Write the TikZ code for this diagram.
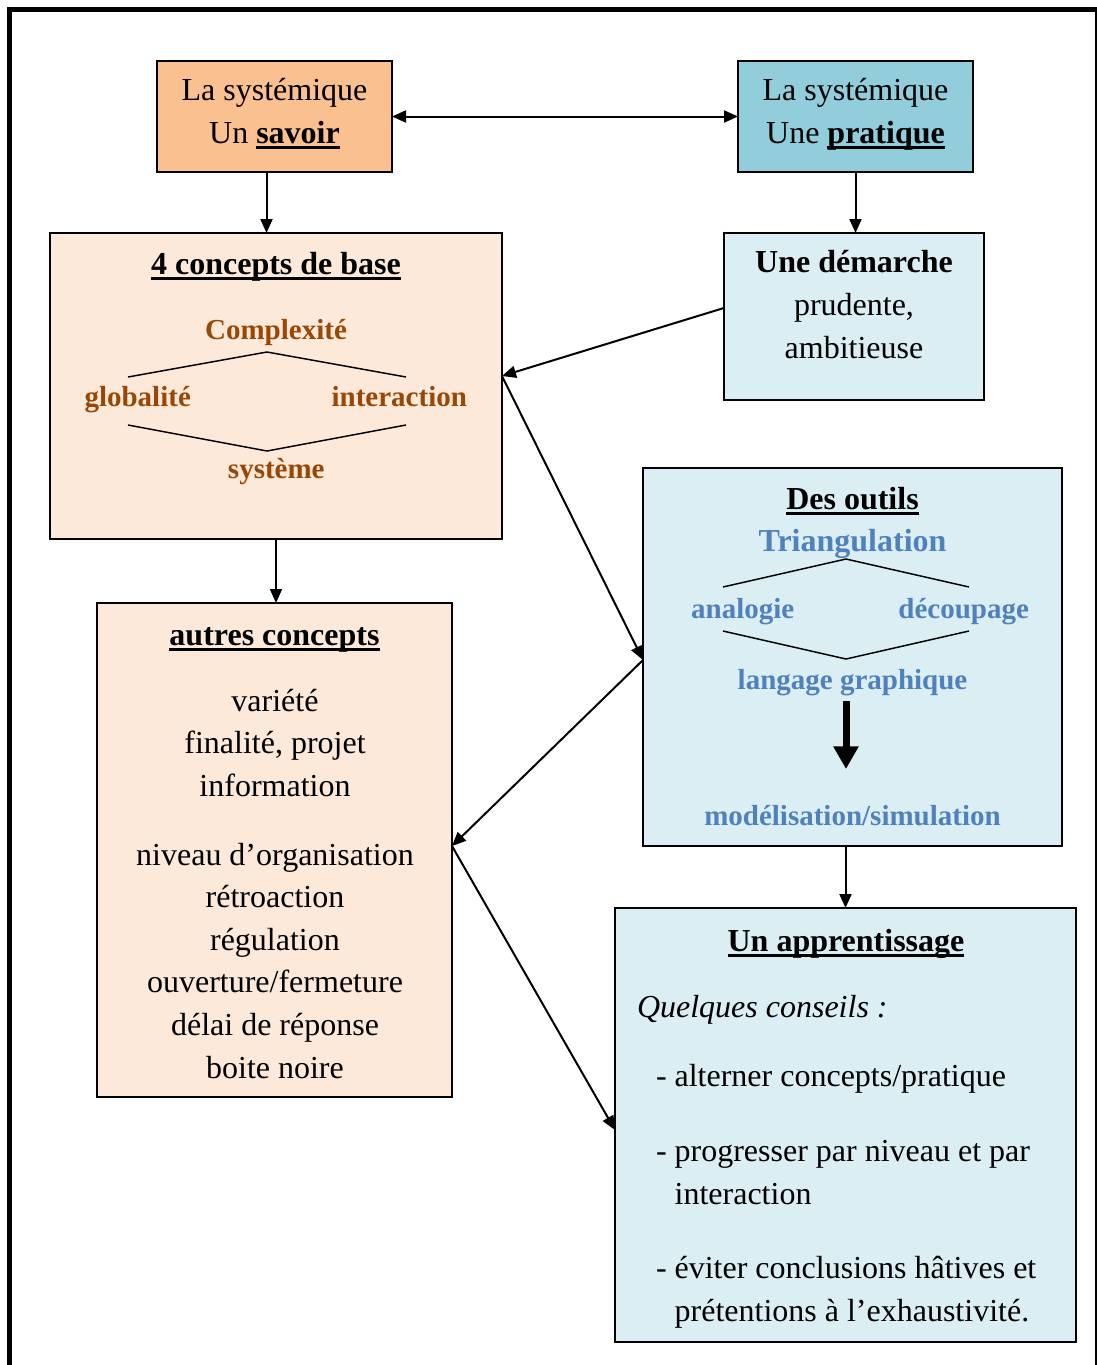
\documentclass[tikz,border=0pt]{standalone}
\usepackage{fontspec}
\setmainfont{Liberation Serif}
\usetikzlibrary{arrows.meta}
\definecolor{savoirfond}{HTML}{FAC090}
\definecolor{pratiquefond}{HTML}{92CDDC}
\definecolor{rosepale}{HTML}{FDE9D9}
\definecolor{bleupale}{HTML}{DBEEF3}
\definecolor{brun}{HTML}{984806}
\definecolor{bleutexte}{HTML}{4F81BD}
\newcommand{\souligne}[1]{\setbox0\hbox{#1}\rlap{\rule[-4.5pt]{\wd0}{2pt}}\box0}
\begin{document}
\begin{tikzpicture}[x=0.75pt,y=-0.75pt,
  every node/.style={font=\fontsize{24}{31.9}\selectfont,inner sep=0pt,outer sep=0pt},
  titre/.style={font=\fontsize{24}{31.9}\selectfont\bfseries},
  petit/.style={font=\fontsize{21.75}{28}\selectfont\bfseries},
  boite/.style={draw,line width=1.5pt},
  trait/.style={line width=1.1pt},
  fleche/.style={line width=1.5pt,-{Triangle[length=10.5pt,width=9pt]}},
  doublefleche/.style={line width=1.5pt,{Triangle[length=10.5pt,width=9pt]}-{Triangle[length=10.5pt,width=9pt]}}]
 \useasboundingbox (0,0) rectangle (1097,1365);
 \draw [line width=3.75pt] (9.5,1365) -- (9.5,9.5) -- (1097,9.5);
 \draw [line width=1.5pt] (1095.5,9.5) -- (1095.5,1365);
 % les boites
 \node [boite,fill=savoirfond,minimum width=176.25pt,minimum height=83.25pt] (savoir) at (274.5,116.5) {};
 \node [boite,fill=pratiquefond,minimum width=176.25pt,minimum height=83.25pt] (pratique) at (855.5,116.5) {};
 \node [boite,fill=rosepale,minimum width=339pt,minimum height=229.5pt] (concepts) at (276,386) {};
 \node [boite,fill=bleupale,minimum width=195pt,minimum height=125.25pt] (demarche) at (854,316.5) {};
 \node [boite,fill=bleupale,minimum width=314.25pt,minimum height=283.5pt] (outils) at (852.5,657) {};
 \node [boite,fill=rosepale,minimum width=266.25pt,minimum height=370.5pt] (autres) at (274.5,850) {};
 \node [boite,fill=bleupale,minimum width=345.75pt,minimum height=325.5pt] (apprentissage) at (845.5,1125) {};
 % les textes (base = derniere ligne)
 \node [anchor=base,align=center] (savoirtxt) at (274.5,143) {La systémique\\Un \souligne{\textbf{savoir}}};
 \node [anchor=base,align=center] (pratiquetxt) at (855.5,143) {La systémique\\Une \souligne{\textbf{pratique}}};
 \node [titre,anchor=base] (ctitre) at (276,274) {\souligne{4 concepts de base}};
 \node [petit,text=brun,anchor=base] (complexite) at (276,339) {Complexité};
 \node [petit,text=brun,anchor=base] (globalite) at (137.7,406) {globalité};
 \node [petit,text=brun,anchor=base] (interaction) at (399.3,406) {interaction};
 \node [petit,text=brun,anchor=base] (systeme) at (276.3,478) {système};
 \draw [trait] (128,377) -- (267,352) -- (406,377);
 \draw [trait] (128,425) -- (267,451) -- (406,425);
 \node [anchor=base,align=center] (demarchetxt) at (854,358) {\textbf{Une démarche}\\prudente,\\ambitieuse};
 \node [titre,anchor=base] (otitre) at (852.5,509) {\souligne{Des outils}};
 \node [titre,text=bleutexte,anchor=base] (triangulation) at (852.5,551) {Triangulation};
 \node [petit,text=bleutexte,anchor=base] (analogie) at (742.7,618) {analogie};
 \node [petit,text=bleutexte,anchor=base] (decoupage) at (963.7,618) {découpage};
 \node [petit,text=bleutexte,anchor=base] (langage) at (852.5,689) {langage graphique};
 \node [petit,text=bleutexte,anchor=base] (modelisation) at (852.5,825) {modélisation/simulation};
 \draw [trait] (723,587) -- (846,559) -- (969,587);
 \draw [trait] (723,631) -- (846,659) -- (969,631);
 \coordinate (g1) at (846,701);
 \coordinate (g2) at (846,769);
 \draw [line width=5.25pt,-{Triangle[length=17pt,width=18pt]}] (g1) -- (g2);
 \node [titre,anchor=base] (atitre) at (274.5,645) {\souligne{autres concepts}};
 \node [anchor=base,align=center] (aliste) at (275,1078) {variété\\finalité, projet\\information\\[20pt]niveau d’organisation\\rétroaction\\régulation\\ouverture/fermeture\\délai de réponse\\boite noire};
 \node [titre,anchor=base] (ptitre) at (846,951) {\souligne{Un apprentissage}};
 \node [anchor=base west,align=left] (conseils) at (637,1321) {\textit{Quelques conseils :}\\[19.9pt]
  \hspace*{14.25pt}- alterner concepts/pratique\\[25pt]
  \hspace*{14.25pt}- progresser par niveau et par\\
  \hspace*{14.25pt}\phantom{- }interaction\\[23.6pt]
  \hspace*{14.25pt}- éviter conclusions hâtives et\\
  \hspace*{14.25pt}\phantom{- }prétentions à l’exhaustivité.};
 % les fleches
 \draw [doublefleche] (savoir.east) -- (pratique.west);
 \draw [fleche] ([xshift=-6pt]savoir.south) -- ([xshift=-6pt]savoir.south |- concepts.north);
 \draw [fleche] (pratique.south) -- (pratique.south |- demarche.north);
 \draw [fleche] ([yshift=6.4pt]demarche.west) -- ([yshift=7.5pt]concepts.east);
 \draw [fleche] ([yshift=7.5pt]concepts.east) -- ([yshift=-2.25pt]outils.west);
 \draw [fleche] (concepts.south) -- (concepts.south |- autres.north);
 \draw [fleche] ([yshift=-2.25pt]outils.west) -- ([yshift=3pt]autres.east);
 \draw [fleche] ([yshift=3pt]autres.east) -- ([yshift=-3.75pt]apprentissage.west);
 \draw [fleche] (apprentissage.north |- outils.south) -- (apprentissage.north);
\end{tikzpicture}
\end{document}
